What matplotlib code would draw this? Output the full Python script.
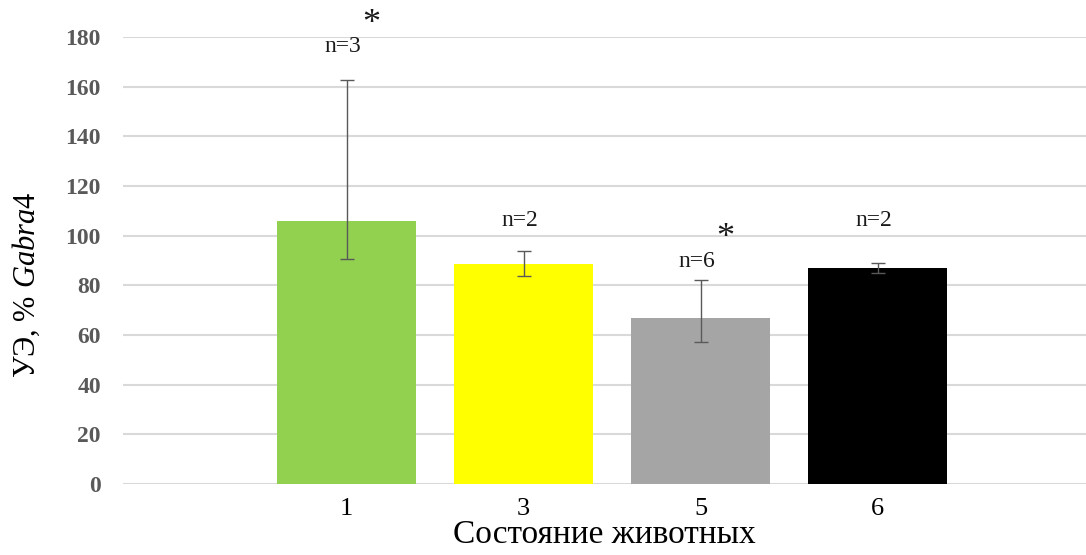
import matplotlib
matplotlib.use("Agg")
import matplotlib.pyplot as plt
import numpy as np

plt.rcParams["font.family"] = ["Liberation Serif", "DejaVu Serif"]
plt.rcParams["mathtext.fontset"] = "custom"
plt.rcParams["mathtext.rm"] = "Liberation Serif"
plt.rcParams["mathtext.it"] = "Liberation Serif:italic"

categories = ["1", "3", "5", "6"]
values = [106, 88.6, 67, 87]
err_low = [90.7, 83.8, 57, 84.8]
err_high = [162.8, 93.8, 82.2, 89.1]
n_labels = ["n=3", "n=2", "n=6", "n=2"]
n_pos = [176, 106.3, 89.4, 106.3]
stars = [(0, 185), (2, 99)]
colors = ["#92D050", "#FFFF00", "#A5A5A5", "#000000"]

fig = plt.figure(figsize=(10.86, 5.55), dpi=100)
ax = fig.add_axes([0.1133, 0.128, 0.8867, 0.8053])

x = np.arange(len(categories))
yerr = [np.array(values) - np.array(err_low), np.array(err_high) - np.array(values)]
ax.bar(x, values, width=0.785, color=colors, zorder=2)
ax.errorbar(x, values, yerr=yerr, fmt="none", ecolor="#595959", elinewidth=1,
            capsize=5, capthick=1, zorder=3)

for xi, lab, yp in zip(x, n_labels, n_pos):
    ax.text(xi - 0.02, yp, lab, ha="center", va="center", fontsize=17, color="#1a1a1a")
for xi, yp in stars:
    ax.text(xi + 0.14, yp, "*", ha="center", va="center", fontsize=26,
            color="#1a1a1a", clip_on=False)

ax.set_xlim(-1.263, 4.178)
ax.set_ylim(0, 180)
ax.set_yticks(np.arange(0, 181, 20))
ax.set_xticks(x)
ax.set_xticklabels(categories, fontsize=19)
ax.yaxis.grid(True, color="#d9d9d9", linewidth=1.5, zorder=0)
ax.set_axisbelow(True)
for s in ax.spines.values():
    s.set_visible(False)
ax.tick_params(axis="both", length=0)
ax.tick_params(axis="y", pad=16)
ax.tick_params(axis="x", pad=10)
for t in ax.get_yticklabels():
    t.set_fontweight("bold")
    t.set_color("#595959")
    t.set_fontsize(17)

ax.set_xlabel("Состояние животных", fontsize=24, labelpad=0)
ax.set_ylabel(r"УЭ, % $\mathit{Gabra4}$", fontsize=22)
ax.yaxis.set_label_coords(-0.084, 0.445)

fig.savefig("out.png", dpi=100)
